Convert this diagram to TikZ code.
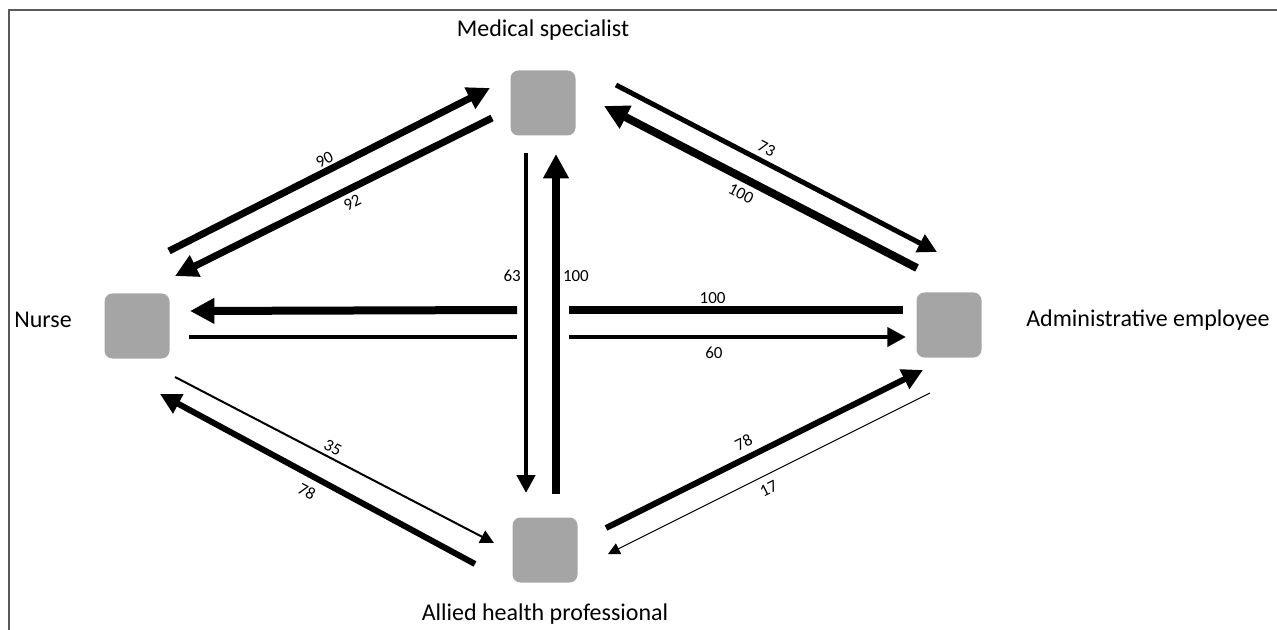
\documentclass[tikz,border=0pt]{standalone}
\usepackage{fontspec}
\setmainfont{Carlito}
\usetikzlibrary{arrows.meta,positioning}

\definecolor{boxgray}{RGB}{165,165,165}
\definecolor{framegray}{RGB}{90,90,90}

\tikzset{
	box/.style={fill=boxgray, rounded corners=4pt, minimum width=32.5pt, minimum height=32.5pt, inner sep=0pt},
	role/.style={font=\fontsize{12}{14}\selectfont, inner sep=0pt},
	num/.style={font=\fontsize{8.5}{10}\selectfont, inner sep=1.5pt},
	link/.style={line width=#1},
	flow/.style={line width=#1, -{Triangle[length=5pt 1.8, width=5pt 1.8]}},
}

\begin{document}
\begin{tikzpicture}[x=0.5pt, y=-0.5pt]
	\useasboundingbox (0,0) rectangle (1277,630);
	\draw [framegray, line width=1pt] (9,630) -- (9,10) -- (1277,10);

	% the four roles
	\node [box] (med)    at (543,103) {};
	\node [box] (nurse)  at (137,326) {};
	\node [box] (admin)  at (949,325) {};
	\node [box] (allied) at (545,550) {};
	\node [role, above=14.75pt of med] (medlbl) {Medical specialist};
	\node [role, left=16pt of nurse, yshift=3pt] (nurselbl) {Nurse};
	\node [role, right=22pt of admin, yshift=2.5pt] (adminlbl) {Administrative employee};
	\node [role, below=10.5pt of allied] (alliedlbl) {Allied health professional};

	% nurse - medical specialist
	\draw [flow=3.5pt] ([shift={(32,-75)}]nurse.center) -- node [num, sloped, above, pos=0.5, inner sep=1pt] {90} ([shift={(-53,-15)}]med.center);
	\draw [flow=3.5pt] ([shift={(-51,15)}]med.center) -- node [num, sloped, below, pos=0.46, inner sep=2.3pt] {92} ([shift={(38,-50)}]nurse.center);

	% medical specialist - administrative employee
	\draw [flow=2.5pt] ([shift={(73,-18)}]med.center) -- node [num, sloped, above, pos=0.45, inner sep=2.6pt] {73} ([shift={(-12,-73)}]admin.center);
	\draw [flow=4pt] ([shift={(-32,-57)}]admin.center) -- node [num, sloped, below, pos=0.54, inner sep=2.8pt] {100} ([shift={(61,3)}]med.center);

	% horizontal lines, broken where the vertical ones pass
	\coordinate (gapL) at (517,0);
	\coordinate (gapR) at (569,0);
	\draw [link=4pt] ([shift={(-46,-15)}]admin.center) coordinate (h1) -- node [num, above, pos=0.57, inner sep=1pt] {100} (h1 -| gapR);
	\draw [flow=4pt] (h1 -| gapL) -- ([shift={(53,-15)}]nurse.center);
	\draw [link=2.4pt] ([shift={(52,11)}]nurse.center) coordinate (h2) -- (h2 -| gapL);
	\draw [flow=2.4pt] (h2 -| gapR) -- node [num, below, pos=0.43, inner sep=4pt] {60} ([shift={(-43,12)}]admin.center);

	% medical specialist - allied health professional
	\draw [flow=2.2pt] ([shift={(-17,50)}]med.center) -- node [num, left, pos=0.36] {63} ([shift={(-19,-57)}]allied.center);
	\draw [flow=4pt] ([shift={(11,-56)}]allied.center) -- node [num, right, pos=0.64] {100} ([shift={(13,51)}]med.center);

	% nurse - allied health professional
	\draw [flow=1pt] ([shift={(38,51)}]nurse.center) -- node [num, sloped, above, pos=0.48, inner sep=1.8pt] {35} ([shift={(-51,-7)}]allied.center);
	\draw [flow=3pt] ([shift={(-70,14)}]allied.center) -- node [num, sloped, below, pos=0.51, inner sep=3.5pt] {78} ([shift={(23,68)}]nurse.center);

	% allied health professional - administrative employee
	\draw [flow=3pt] ([shift={(61,-22)}]allied.center) -- node [num, sloped, above, pos=0.455, inner sep=3.2pt] {78} ([shift={(-26,45)}]admin.center);
	\draw [flow=0.5pt] ([shift={(-19,68)}]admin.center) -- node [num, sloped, below, pos=0.52, inner sep=3.9pt] {17} ([shift={(63,4)}]allied.center);
\end{tikzpicture}
\end{document}
